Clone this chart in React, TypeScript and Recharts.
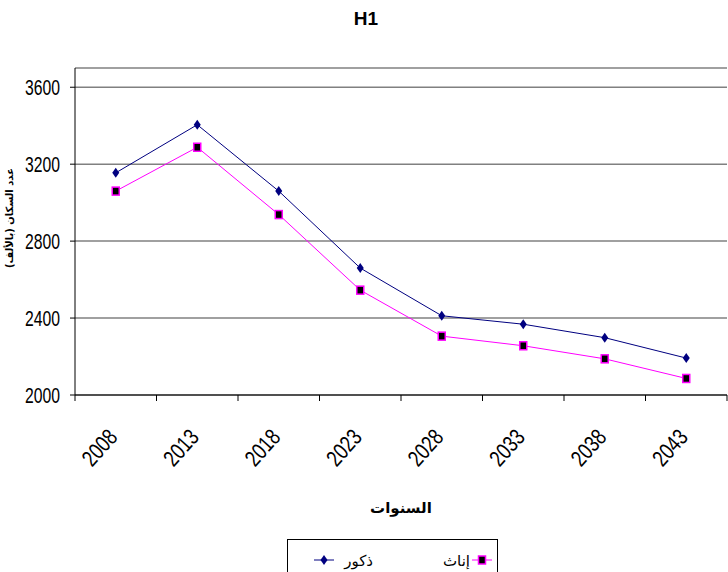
import React from 'react';
import { LineChart, Line, XAxis, YAxis, CartesianGrid, Label } from 'recharts';

const years = ['2008', '2013', '2018', '2023', '2028', '2033', '2038', '2043'];
const males = [3155, 3405, 3060, 2660, 2412, 2368, 2298, 2192];
const females = [3060, 3288, 2938, 2545, 2306, 2256, 2188, 2086];
const yTicks = [2000, 2400, 2800, 3200, 3600];

const data = years.map((y, i) => ({ year: y, males: males[i], females: females[i] }));

const SANS = '"Liberation Sans", Arial, sans-serif';
const ARABIC = '"DejaVu Sans", "Noto Sans", sans-serif';
const BAND = 81.5;

const Diamond = (props: any) => {
  const { cx, cy } = props;
  if (cx == null || cy == null) return null;
  return <polygon points={`${cx},${cy - 5} ${cx + 3.5},${cy} ${cx},${cy + 5} ${cx - 3.5},${cy}`} fill="#000080" />;
};

const Square = (props: any) => {
  const { cx, cy } = props;
  if (cx == null || cy == null) return null;
  return <rect x={cx - 3.5} y={cy - 4} width={7} height={8} fill="#000" stroke="#FF00FF" strokeWidth={1.5} />;
};

// category ticks sit on the band edges, labels slanted under the band centre
const XTick = (props: any) => {
  const { x, y, payload, index } = props;
  return (
    <g>
      <line x1={x - BAND / 2} y1={y - 6} x2={x - BAND / 2} y2={y} stroke="#000" />
      {index === years.length - 1 && <line x1={x + BAND / 2} y1={y - 6} x2={x + BAND / 2} y2={y} stroke="#000" />}
      <text
        x={x + 3}
        y={y + 37}
        textAnchor="end"
        transform={`rotate(-48, ${x + 3}, ${y + 37})`}
        fontFamily={SANS}
        fontSize={23}
        textLength={40}
        lengthAdjust="spacingAndGlyphs"
        fill="#000"
      >
        {payload.value}
      </text>
    </g>
  );
};

const YTick = (props: any) => {
  const { x, y, payload } = props;
  return (
    <text x={x} y={y + 8} textAnchor="end" fontFamily={SANS} fontSize={22} textLength={35} lengthAdjust="spacingAndGlyphs" fill="#000">
      {payload.value}
    </text>
  );
};

const YTitle = () => (
  <text x={13} y={218} textAnchor="middle" transform="rotate(-90, 13, 218)" fontFamily={ARABIC} fontWeight="bold" fontSize={10} fill="#000">
    عدد السكان (بالألف)
  </text>
);

export default function App() {
  return (
    <div style={{ position: 'absolute', left: 0, top: 0, width: 728, height: 572, background: '#fff', fontFamily: SANS }}>
      <div style={{ position: 'absolute', left: 0, top: 8, width: 732, textAlign: 'center', fontSize: 19, fontWeight: 'bold' }}>H1</div>
      <LineChart width={728} height={572} data={data} margin={{ top: 68, right: 1, left: 0, bottom: 0 }}>
        <CartesianGrid vertical={false} stroke="#808080" strokeWidth={1.5} />
        <XAxis
          dataKey="year"
          scale="band"
          height={177}
          axisLine={{ stroke: '#000' }}
          tickLine={false}
          tickSize={6}
          tickMargin={0}
          interval={0}
          tick={<XTick />}
        >
          <Label value="السنوات" position="insideBottom" offset={59} fontFamily={ARABIC} fontWeight="bold" fontSize={15} fill="#000" />
        </XAxis>
        <YAxis
          domain={[2000, 3700]}
          ticks={yTicks}
          width={75}
          axisLine={{ stroke: '#000' }}
          tickLine={{ stroke: '#000' }}
          tickSize={5}
          tickMargin={10}
          tick={<YTick />}
        >
          <Label content={<YTitle />} />
        </YAxis>
        <Line dataKey="males" stroke="#000080" strokeWidth={1} dot={<Diamond />} isAnimationActive={false} />
        <Line dataKey="females" stroke="#FF00FF" strokeWidth={1} dot={<Square />} isAnimationActive={false} />
      </LineChart>
      <div style={{ position: 'absolute', left: 287, top: 539, width: 209, height: 40, border: '1px solid #000', background: '#fff' }}>
        <svg width={209} height={40} style={{ position: 'absolute', left: 0, top: 0 }}>
          <line x1={26} y1={20} x2={46} y2={20} stroke="#000080" />
          <polygon points="36,15 39.5,20 36,25 32.5,20" fill="#000080" />
          <line x1={184} y1={20} x2={204} y2={20} stroke="#FF00FF" />
          <rect x={190.5} y={16} width={7} height={8} fill="#000" stroke="#FF00FF" strokeWidth={1.5} />
          <text x={85} y={26} textAnchor="end" fontFamily={ARABIC} fontSize={15} fill="#000">ذكور</text>
          <text x={182} y={26} textAnchor="end" fontFamily={ARABIC} fontSize={15} fill="#000">إناث</text>
        </svg>
      </div>
    </div>
  );
}
